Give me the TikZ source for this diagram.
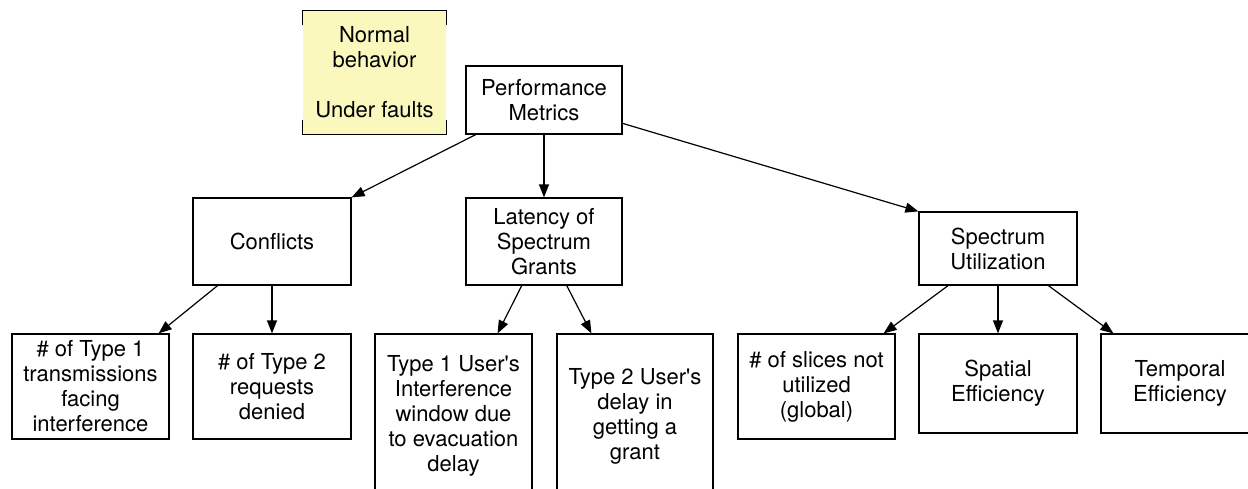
\documentclass[tikz,border=0pt]{standalone}
\usepackage{fontspec}
\setmainfont{TeX Gyre Heros}
\usepackage{tikz}
\usetikzlibrary{arrows.meta}
\definecolor{notecolor}{HTML}{FBF8BE}

\begin{document}
\begin{tikzpicture}[x = 1pt, y = -1pt, > = {Triangle[length=13pt, width=10pt]}, line width = 1.2pt,
    every node/.style = {align = center, inner sep = 0pt, font = \fontsize{22}{25}\selectfont},
    metric/.style = {draw, minimum width = 158pt}]
    \useasboundingbox (0, 0) rectangle (1248, 488);
    % legend note
    \node[fill = notecolor, minimum width = 143pt, minimum height = 123pt] (legend) at (374.5, 72.5) {Normal\\behavior\\[25pt]Under faults};
    \draw (legend.north west) ++(0, 15) -- (legend.north west) -- (legend.north east) -- ++(0, 15);
    \draw (legend.south west) ++(0, -15) -- (legend.south west) -- (legend.south east) -- ++(0, -15);
    % levels
    \node[metric, minimum width = 156pt, minimum height = 68pt] (metrics) at (544, 100) {Performance\\Metrics};
    \node[metric, minimum height = 87pt] (conflicts) at (272, 241.5) {Conflicts};
    \node[metric, minimum width = 156pt, minimum height = 87pt] (latency) at (544, 241.5) {Latency of\\Spectrum\\Grants};
    \node[metric, minimum height = 73pt] (util) at (998, 248.5) {Spectrum\\Utilization};
    \node[metric, minimum width = 157pt, minimum height = 105pt] (type1) at (90.5, 386.5) {\# of Type 1\\transmissions\\facing\\interference};
    \node[metric, minimum height = 105pt] (type2) at (272, 386.5) {\# of Type 2\\requests\\denied};
    \node[metric, minimum width = 157pt, minimum height = 164pt] (window) at (453.5, 416) {Type 1 User\textquotesingle s\\Interference\\window due\\to evacuation\\delay};
    \node[metric, minimum width = 156pt, minimum height = 164pt] (grant) at (635, 416) {Type 2 User\textquotesingle s\\delay in\\getting a\\grant};
    \node[metric, minimum width = 157pt, minimum height = 105pt] (slices) at (816.5, 386.5) {\# of slices not\\utilized\\(global)};
    \node[metric, minimum height = 99pt] (spatial) at (998, 383.5) {Spatial\\Efficiency};
    \node[metric, minimum height = 99pt] (temporal) at (1180, 383.5) {Temporal\\Efficiency};
    \draw[->] (metrics) -- (conflicts.north east);
    \draw[->] (metrics) -- (latency);
    \draw[->] (metrics) -- (util.north west);
    \draw[->] (conflicts) -- ([xshift = -11pt]type1.north east);
    \draw[->] (conflicts) -- (type2);
    \draw[->] (latency) -- ([xshift = -35pt]window.north east);
    \draw[->] (latency) -- ([xshift = 35pt]grant.north west);
    \draw[->] (util) -- ([xshift = -12pt]slices.north east);
    \draw[->] (util) -- (spatial);
    \draw[->] (util) -- ([xshift = 13pt]temporal.north west);
\end{tikzpicture}
\end{document}
